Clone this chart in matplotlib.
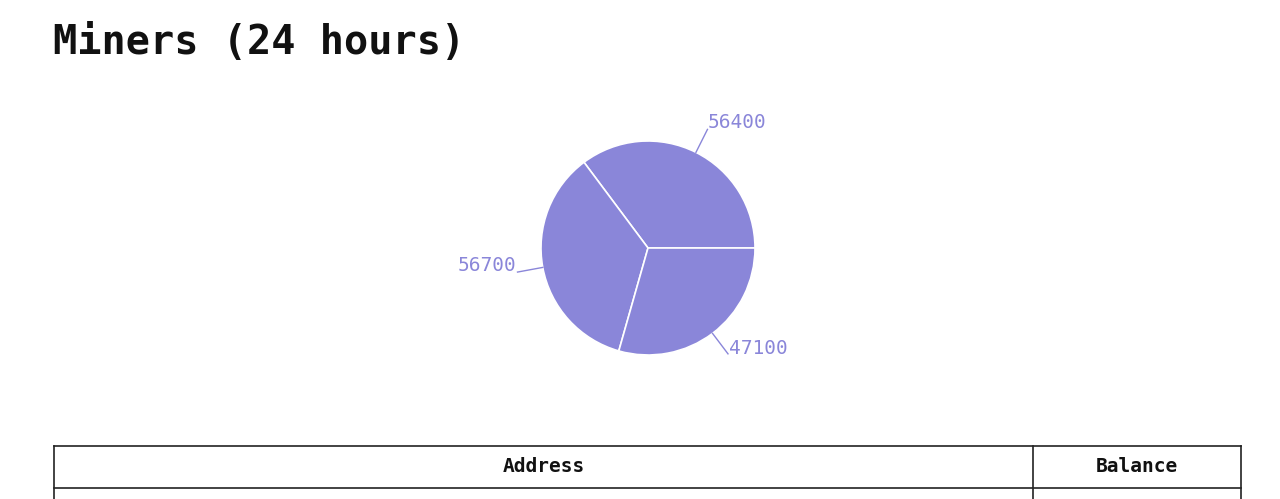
import matplotlib.pyplot as plt
import numpy as np

# data
values = [56400, 56700, 47100]
labels = ["56400", "56700", "47100"]
title = "Miners (24 hours)"
table_cols = ["Address", "Balance"]

color = "#8a86d9"
plt.rcParams['font.family'] = ['DejaVu Sans Mono']

fig = plt.figure(figsize=(12.8, 4.99), dpi=100)
fig.text(53 / 1280, 1 - 54 / 499, title, fontsize=29, fontweight='bold',
         color='#111111', ha='left', va='baseline')

# pie
ax = fig.add_axes([(648 - 107) / 1280, (251 - 107) / 499, 214 / 1280, 214 / 499])
wedges, _ = ax.pie(values, startangle=0, counterclock=True, colors=[color] * 3,
                   wedgeprops=dict(edgecolor='white', linewidth=1.2), radius=1)
ax.set_xlim(-1, 1)
ax.set_ylim(-1, 1)
ax.set_aspect('equal')
ax.axis('off')

for w, lab in zip(wedges, labels):
    ang = np.deg2rad((w.theta1 + w.theta2) / 2)
    c, s = np.cos(ang), np.sin(ang)
    ax.plot([c, 1.24 * c], [s, 1.24 * s], color=color, lw=1.0, clip_on=False)
    ha = 'left' if c > 0 else 'right'
    ax.text(1.25 * c, 1.25 * s + 0.06, lab, ha=ha, va='center',
            fontsize=14, color=color, clip_on=False)

# table header
tax = fig.add_axes([0, 0, 1, 1])
tax.set_xlim(0, 1280)
tax.set_ylim(499, 0)
tax.axis('off')
left, right, div = 54, 1241, 1033
top, mid = 446, 488
lc = '#222222'
tax.plot([left, right], [top, top], color=lc, lw=1.2)
tax.plot([left, right], [mid, mid], color=lc, lw=1.2)
tax.plot([left, left], [top, 499], color=lc, lw=1.2)
tax.plot([right, right], [top, 499], color=lc, lw=1.2)
tax.plot([div, div], [top, 499], color=lc, lw=1.2)
tax.text((left + div) / 2, (top + mid) / 2, table_cols[0], ha='center', va='center',
         fontsize=14, fontweight='bold', color='#111111')
tax.text((div + right) / 2, (top + mid) / 2, table_cols[1], ha='center', va='center',
         fontsize=14, fontweight='bold', color='#111111')

fig.savefig("out.png", dpi=100)
